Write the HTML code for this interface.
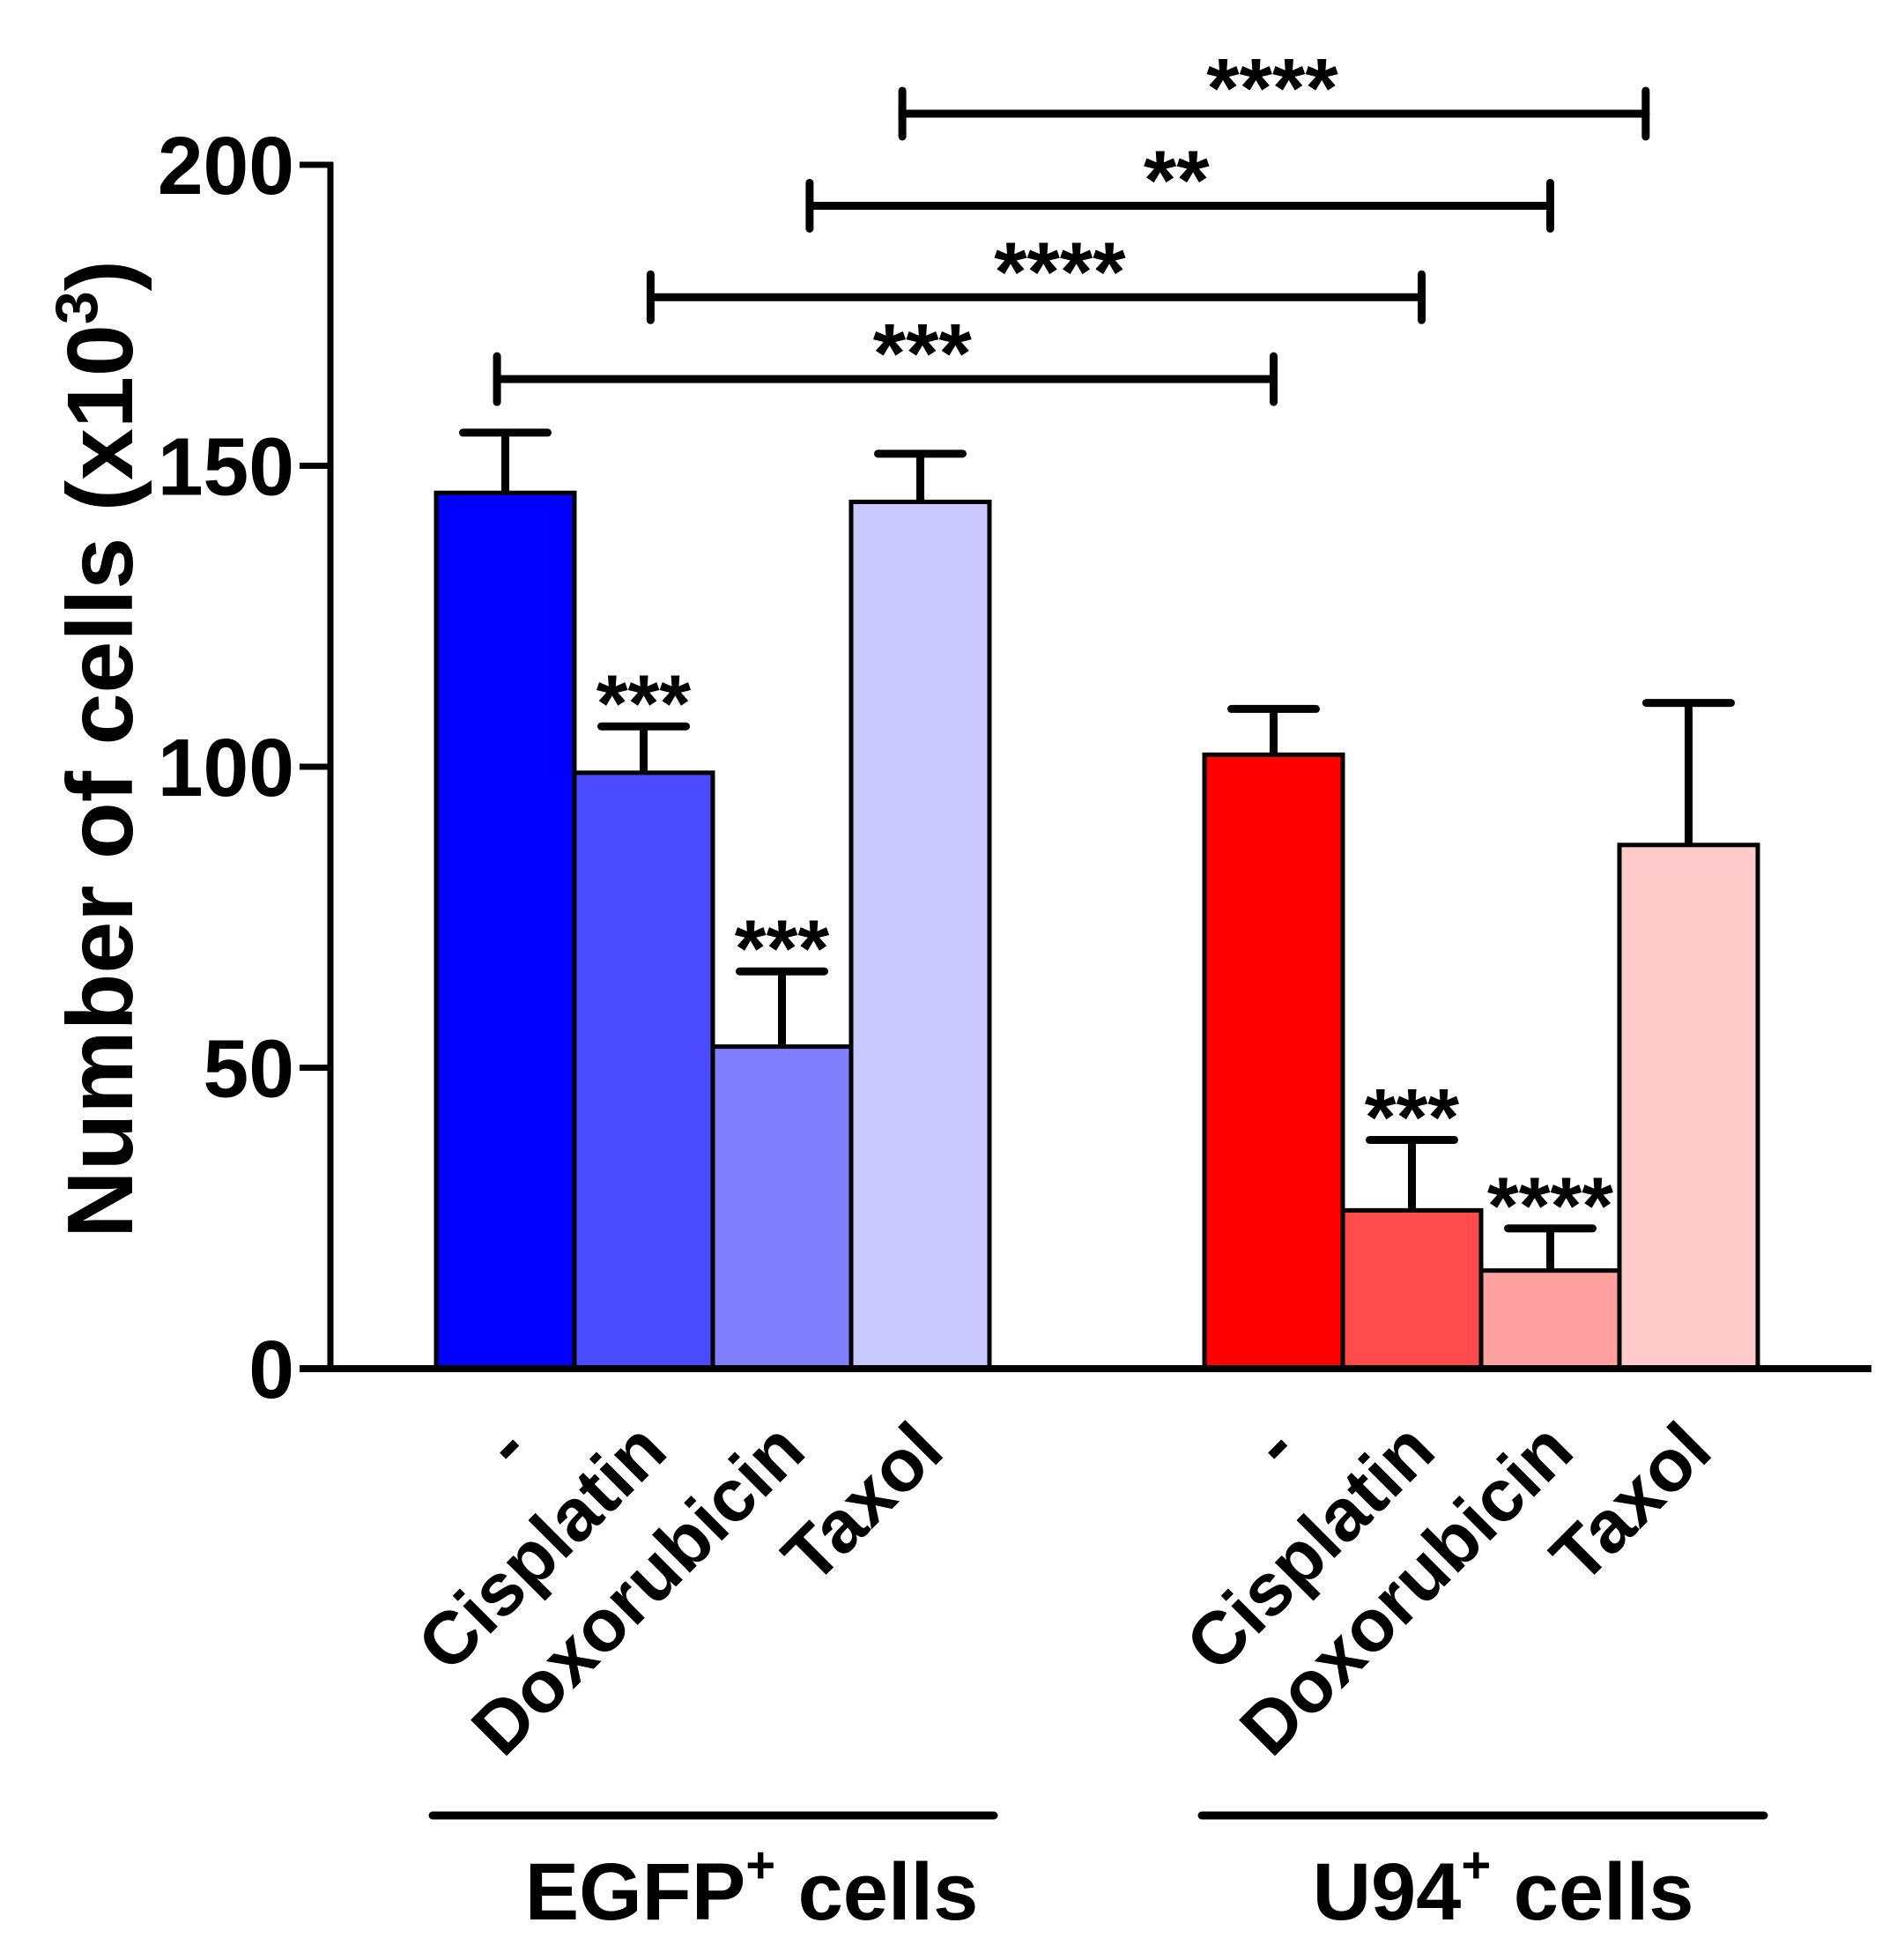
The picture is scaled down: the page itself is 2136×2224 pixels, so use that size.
<!DOCTYPE html>
<html><head><meta charset="utf-8"><style>
html,body{margin:0;padding:0;background:#fff;}
svg{display:block;font-family:"Liberation Sans",Arial,sans-serif;font-weight:bold;}
</style></head><body>
<svg id="chart" width="2136" height="2224" viewBox="0 0 2136 2224" xmlns="http://www.w3.org/2000/svg"></svg>
<script>
const categories = ["-", "Cisplatin", "Doxorubicin", "Taxol", "-", "Cisplatin", "Doxorubicin", "Taxol"];
const groups = ["EGFP", "U94"];
const meanValues = [145.5, 99, 53.5, 144, 102, 26.3, 16.3, 87];
const errorValues = [10, 7.7, 12.5, 8, 7.6, 11.7, 7, 23.6];
const barStars = ["", "***", "***", "", "", "***", "****", ""];
const barColors = ["#0000ff", "#4b4bff", "#8080ff", "#c8c8ff", "#ff0000", "#ff4b4b", "#ffa0a0", "#ffcaca"];
const yTicks = [0, 50, 100, 150, 200];
const compFrom = [-0.06, 1.05, 2.2, 2.87];
const compTo = [4.0, 5.07, 6.0, 6.69];
const compLevel = [164.4, 178, 193.2, 208.5];
const compStars = ["***", "****", "**", "****"];
const compLabelShift = [42, 27, -4, -2];

const NS = "http://www.w3.org/2000/svg";
const svg = document.getElementById("chart");
const y0 = 1553, yPerUnit = 6.83;
function yScale(v){ return y0 - v * yPerUnit; }
const groupStart = [495, 1367], barW = 157;
function xLeft(i){ return groupStart[Math.floor(i/4)] + (i%4) * barW; }
function xCenter(i){ return xLeft(i) + barW/2; }
function xPos(p){ const i = Math.round(p); return xCenter(i) + (p - i) * barW; }
function mk(tag, attrs, parent){
  const e = document.createElementNS(NS, tag);
  for (const k in attrs) e.setAttribute(k, attrs[k]);
  (parent||svg).appendChild(e); return e;
}

meanValues.forEach((v,i)=>{
  const r = mk("rect",{x:xLeft(i), y:yScale(v), width:barW, height:y0-yScale(v), fill:barColors[i], stroke:"#000","stroke-width":5});
  
  
});
meanValues.forEach((v,i)=>{
  const g = mk("g",{stroke:"#000","stroke-width":9,"stroke-linecap":"round"});
  
  
  const top = yScale(v + errorValues[i]);
  mk("line",{x1:xCenter(i),x2:xCenter(i),y1:yScale(v),y2:top,"stroke-linecap":"butt"},g);
  mk("line",{x1:xCenter(i)-48,x2:xCenter(i)+48,y1:top,y2:top},g);
  if (barStars[i]) {
    const t = mk("text",{x:xCenter(i), y:top+6, "text-anchor":"middle","font-size":92});
    t.textContent = barStars[i];
    
    
  }
});
const yAxis = mk("line",{x1:375,x2:375,y1:yScale(200)-3,y2:y0+3,stroke:"#000","stroke-width":7});


const xAxis = mk("line",{x1:340,x2:2124,y1:y0,y2:y0,stroke:"#000","stroke-width":8});


yTicks.forEach(v=>{
  const tk = mk("line",{x1:340,x2:378,y1:yScale(v),y2:yScale(v),stroke:"#000","stroke-width":7});
  
  
  const t = mk("text",{x:334,y:yScale(v)+33,"text-anchor":"end","font-size":93});
  t.textContent = v;
  
  
});
const yt = mk("text",{transform:"translate(150,850) rotate(-90)","text-anchor":"middle","font-size":106});


yt.innerHTML = 'Number of cells (x10<tspan dy="-40" font-size="68">3</tspan><tspan dy="40">)</tspan>';
categories.forEach((c,i)=>{
  const x = xCenter(i)+30, y = 1650;
  const t = mk("text",{transform:`translate(${x},${y}) rotate(-45)`,"text-anchor":"end","font-size":84});
  t.textContent = c;
  
  
});
[[491,1128,853,"EGFP"],[1364,2002,1706,"U94"]].forEach(g=>{
  const l = mk("line",{x1:g[0],x2:g[1],y1:2060,y2:2060,stroke:"#000","stroke-width":9,"stroke-linecap":"round"});
  
  
  const t = mk("text",{x:g[2],y:2178,"text-anchor":"middle","font-size":92});
  t.innerHTML = g[3]+'<tspan dy="-42" font-size="58">+</tspan><tspan dy="42"> cells</tspan>';
  
  
});
compFrom.forEach((f,k)=>{
  const xa = xPos(f), xb = xPos(compTo[k]);
  const yy = yScale(compLevel[k]);
  const g = mk("g",{stroke:"#000","stroke-width":9,"stroke-linecap":"round"});
  
  
  mk("line",{x1:xa,x2:xb,y1:yy,y2:yy},g);
  mk("line",{x1:xa,x2:xa,y1:yy-26,y2:yy+26},g);
  mk("line",{x1:xb,x2:xb,y1:yy-26,y2:yy+26},g);
  const t = mk("text",{x:(xa+xb)/2 + compLabelShift[k],y:yy+4,"text-anchor":"middle","font-size":96});
  t.textContent = compStars[k];
  
  
});
</script>
</body></html>
